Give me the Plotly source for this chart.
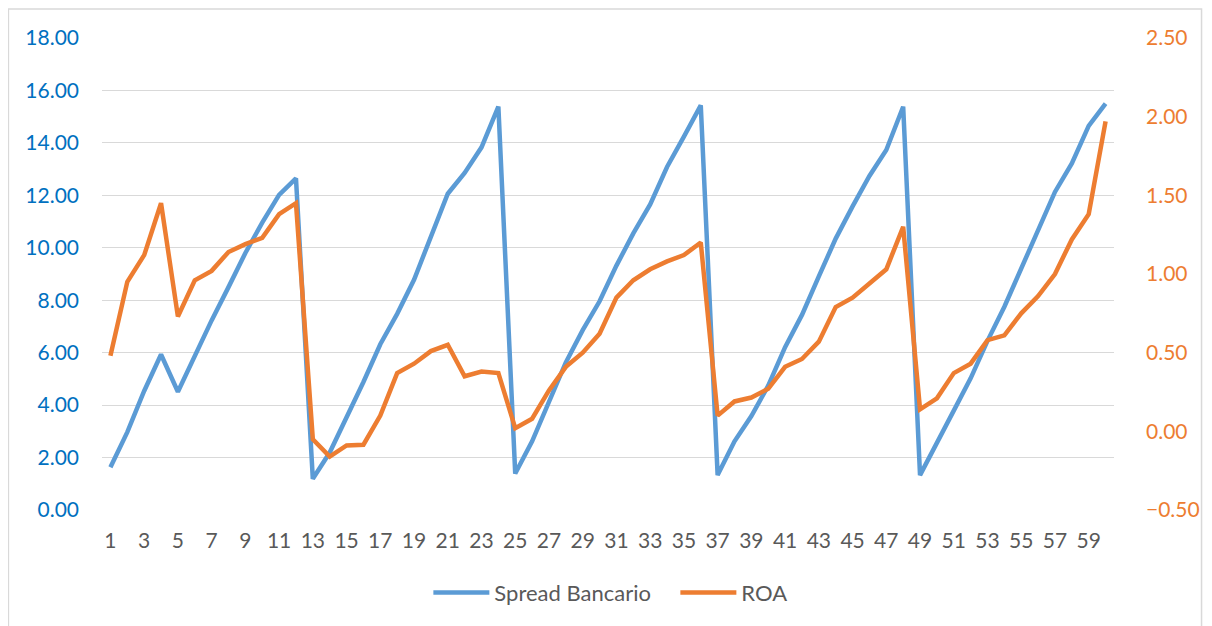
import plotly.graph_objects as go

periods = list(range(1, 61))
x_tick_labels = [str(i) for i in range(1, 61, 2)]

spread_bancario = [1.63, 2.97, 4.54, 5.93, 4.51, 5.88, 7.23, 8.50, 9.80, 10.96, 12.02, 12.65,
                   1.19, 2.19, 3.51, 4.88, 6.32, 7.48, 8.78, 10.42, 12.06, 12.85, 13.83, 15.38,
                   1.39, 2.62, 4.13, 5.63, 6.86, 7.96, 9.32, 10.55, 11.65, 13.08, 14.24, 15.43,
                   1.33, 2.62, 3.58, 4.74, 6.21, 7.44, 8.91, 10.35, 11.58, 12.74, 13.73, 15.38,
                   1.33, 2.52, 3.79, 5.02, 6.45, 7.75, 9.19, 10.69, 12.13, 13.22, 14.65, 15.50]

roa = [0.48, 0.95, 1.12, 1.45, 0.73, 0.96, 1.02, 1.14, 1.19, 1.23, 1.38, 1.45,
       -0.05, -0.16, -0.09, -0.085, 0.10, 0.37, 0.43, 0.51, 0.55, 0.35, 0.38, 0.37,
       0.02, 0.08, 0.26, 0.41, 0.50, 0.62, 0.85, 0.96, 1.03, 1.08, 1.12, 1.20,
       0.10, 0.19, 0.215, 0.27, 0.41, 0.46, 0.57, 0.79, 0.85, 0.94, 1.03, 1.30,
       0.14, 0.21, 0.37, 0.43, 0.58, 0.61, 0.75, 0.86, 1.00, 1.22, 1.38, 1.97]

left_ticks = [0, 2, 4, 6, 8, 10, 12, 14, 16, 18]
right_ticks = [-0.5, 0, 0.5, 1.0, 1.5, 2.0, 2.5]

FONT = "Lato, 'Open Sans', sans-serif"

fig = go.Figure()
fig.add_trace(go.Scatter(x=periods, y=spread_bancario, name="Spread Bancario", mode="lines",
                         line=dict(color="#5B9BD5", width=4.5), yaxis="y"))
fig.add_trace(go.Scatter(x=periods, y=roa, name="ROA", mode="lines",
                         line=dict(color="#ED7D31", width=4.5), yaxis="y2"))

# page has 8px body margin: figure occupies 8..1212 x 8..626
fig.update_layout(
    width=1204, height=618,
    margin=dict(l=94, r=85, t=30, b=110),
    paper_bgcolor="white", plot_bgcolor="white",
    font=dict(family=FONT, size=21, color="#595959"),
    showlegend=True,
    legend=dict(orientation="h", x=0.3225, xanchor="left", y=-0.175, yanchor="middle",
                font=dict(size=22, color="#595959"), itemwidth=56, entrywidth=176,
                entrywidthmode="pixels"),
    xaxis=dict(range=[0.5, 60.5], tickmode="array", tickvals=list(range(1, 61, 2)),
               ticktext=x_tick_labels, showgrid=False, zeroline=False, showline=False,
               ticks="", ticklabelstandoff=16, tickfont=dict(size=21, color="#595959")),
    yaxis=dict(range=[0, 18], tickmode="array", tickvals=left_ticks, tickformat=".2f",
               showgrid=True, gridcolor="#D9D9D9", gridwidth=1.3, zeroline=False,
               showline=False, ticks="", ticklabelstandoff=22,
               tickfont=dict(size=21, color="#0070C0")),
    yaxis2=dict(range=[-0.5, 2.5], tickmode="array", tickvals=right_ticks, tickformat=".2f",
                overlaying="y", side="right", showgrid=False, zeroline=False,
                showline=False, ticks="", ticklabelstandoff=31,
                tickfont=dict(size=21, color="#ED7D31")),
    shapes=[dict(type="rect", xref="paper", yref="paper",
                 x0=-0.0925, x1=1.0865, y0=-0.35, y1=1.0617,
                 line=dict(color="#D9D9D9", width=1.5), fillcolor="rgba(0,0,0,0)",
                 layer="below")],
)

fig.write_html("out.html")
